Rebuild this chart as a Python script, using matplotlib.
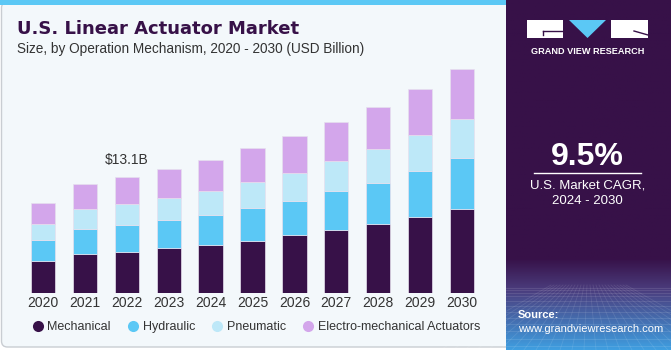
"""U.S. linear actuator market, stacked bars by operation mechanism."""

import matplotlib.pyplot as plt
import numpy as np
from matplotlib.colors import LinearSegmentedColormap
from matplotlib.patches import FancyBboxPatch, Rectangle, Polygon

years = ['2020', '2021', '2022', '2023', '2024', '2025',
         '2026', '2027', '2028', '2029', '2030']
mechanical = [3.67, 4.43, 4.69, 5.07, 5.44, 5.92, 6.57, 7.16, 7.81, 8.63, 9.46]
hydraulic = [2.33, 2.82, 3.01, 3.19, 3.41, 3.65, 3.86, 4.36, 4.65, 5.18, 5.78]
pneumatic = [1.77, 2.22, 2.37, 2.51, 2.70, 2.93, 3.12, 3.38, 3.76, 4.02, 4.39]
electro = [2.37, 2.85, 3.04, 3.27, 3.49, 3.86, 4.13, 4.43, 4.80, 5.18, 5.60]
series_names = ['Mechanical', 'Hydraulic', 'Pneumatic', 'Electro-mechanical Actuators']
colors = ['#371148', '#5bc8f5', '#bde8f8', '#d3a6eb']
highlight_label = '$13.1B'
highlight_idx = 2
cagr = '9.5%'

plt.rcParams['font.family'] = ['Liberation Sans', 'DejaVu Sans']

W, H = 671, 350
fig = plt.figure(figsize=(W / 100, H / 100), dpi=100)

# background canvas in pixel coordinates
bg = fig.add_axes([0, 0, 1, 1])
bg.set_xlim(0, W)
bg.set_ylim(H, 0)
bg.axis('off')

bg.add_patch(FancyBboxPatch((1.5, 2), 520, 345, boxstyle='round,pad=0,rounding_size=6',
                            facecolor='#f3f8fb', edgecolor='#c9cdd2', linewidth=1))
bg.add_patch(Rectangle((0, 0), 506, 5, facecolor='#5bc8f5', edgecolor='none'))

# right panel with gradient at bottom
cmap = LinearSegmentedColormap.from_list(
    'panel', [(0, '#371148'), (0.74, '#371148'), (0.83, '#4b3d7e'), (1, '#3f9ee0')])
grad = np.linspace(0, 1, 256).reshape(-1, 1)
bg.imshow(grad, extent=(505.7, W, H, 0), cmap=cmap, aspect='auto', zorder=2)

# faint mesh on panel bottom
for k in range(12):
    y = 288 + (k ** 1.5) * 1.6
    bg.plot([505.7, W], [y, y], color='white', alpha=0.12, linewidth=0.6, zorder=3)
for xs in np.linspace(440, 740, 26):
    bg.plot([588 + (xs - 588) * 0.25, xs], [285, H], color='white', alpha=0.10,
            linewidth=0.6, zorder=3)

# logo
bg.add_patch(Rectangle((527, 20), 36, 18, facecolor='white', edgecolor='none', zorder=4))
bg.add_patch(Polygon([(569, 20), (606, 20), (587.5, 38)], closed=True,
                     facecolor='#5bc8f5', edgecolor='none', zorder=4))
bg.add_patch(Rectangle((611, 20), 37, 18, facecolor='white', edgecolor='none', zorder=4))
bg.plot([543, 563], [31, 31], color='#371148', linewidth=1, zorder=5)
bg.plot([543, 543], [31, 35], color='#371148', linewidth=1, zorder=5)
bg.plot([634, 648], [31, 35], color='#371148', linewidth=1, zorder=5)
bg.text(587.5, 51.5, 'GRAND VIEW RESEARCH', color='white', fontsize=6.6,
        fontweight='bold', ha='center', va='center', zorder=5)

bg.text(587.5, 157, cagr, color='white', fontsize=23, fontweight='bold',
        ha='center', va='center', zorder=5)
bg.plot([534, 641], [173, 173], color='white', linewidth=1, zorder=5)
bg.text(587.5, 186, 'U.S. Market CAGR,', color='white', fontsize=9.5,
        ha='center', va='center', zorder=5)
bg.text(587.5, 201, '2024 - 2030', color='white', fontsize=9.5,
        ha='center', va='center', zorder=5)
bg.text(518, 315, 'Source:', color='white', fontsize=8, fontweight='bold',
        ha='left', va='center', zorder=5)
bg.text(518, 329, 'www.grandviewresearch.com', color='white', fontsize=8,
        ha='left', va='center', zorder=5)

# titles
bg.text(17, 29, 'U.S. Linear Actuator Market', color='#371148', fontsize=13,
        fontweight='bold', family='DejaVu Sans', ha='left', va='center')
bg.text(17, 49, 'Size, by Operation Mechanism, 2020 - 2030 (USD Billion)',
        color='#333333', fontsize=9.8, ha='left', va='center')

# chart axes
ax = fig.add_axes([22.05 / W, (H - 293.3) / H, 460.9 / W, 230.8 / H])
ax.set_facecolor('none')
x = np.arange(len(years))
bottom = np.zeros(len(years))
for name, vals, col in zip(series_names, [mechanical, hydraulic, pneumatic, electro], colors):
    ax.bar(x, vals, width=0.58, bottom=bottom, color=col, edgecolor='#e6e0ee',
           linewidth=0.5, label=name)
    bottom += np.array(vals)

ax.text(x[highlight_idx], bottom[highlight_idx] + 1.1, highlight_label,
        ha='center', va='bottom', fontsize=10, color='#333333')
ax.set_xlim(-0.5, len(years) - 0.5)
ax.set_ylim(0, 26)
ax.set_xticks(x)
ax.set_xticklabels(years, fontsize=10, color='#333333')
ax.tick_params(axis='x', length=0, pad=2)
ax.set_yticks([])
for s in ax.spines.values():
    s.set_visible(False)

# legend
handles = [plt.Line2D([], [], marker='o', linestyle='none', markersize=8,
                      markerfacecolor=c, markeredgecolor='none') for c in colors]
fig.legend(handles, series_names, loc='center left', bbox_to_anchor=(20 / W, 1 - 327 / H),
           ncol=4, frameon=False, fontsize=9, handletextpad=0.3, columnspacing=1.25,
           handlelength=1.0, labelcolor='#333333')

fig.savefig('out.png', dpi=100)
